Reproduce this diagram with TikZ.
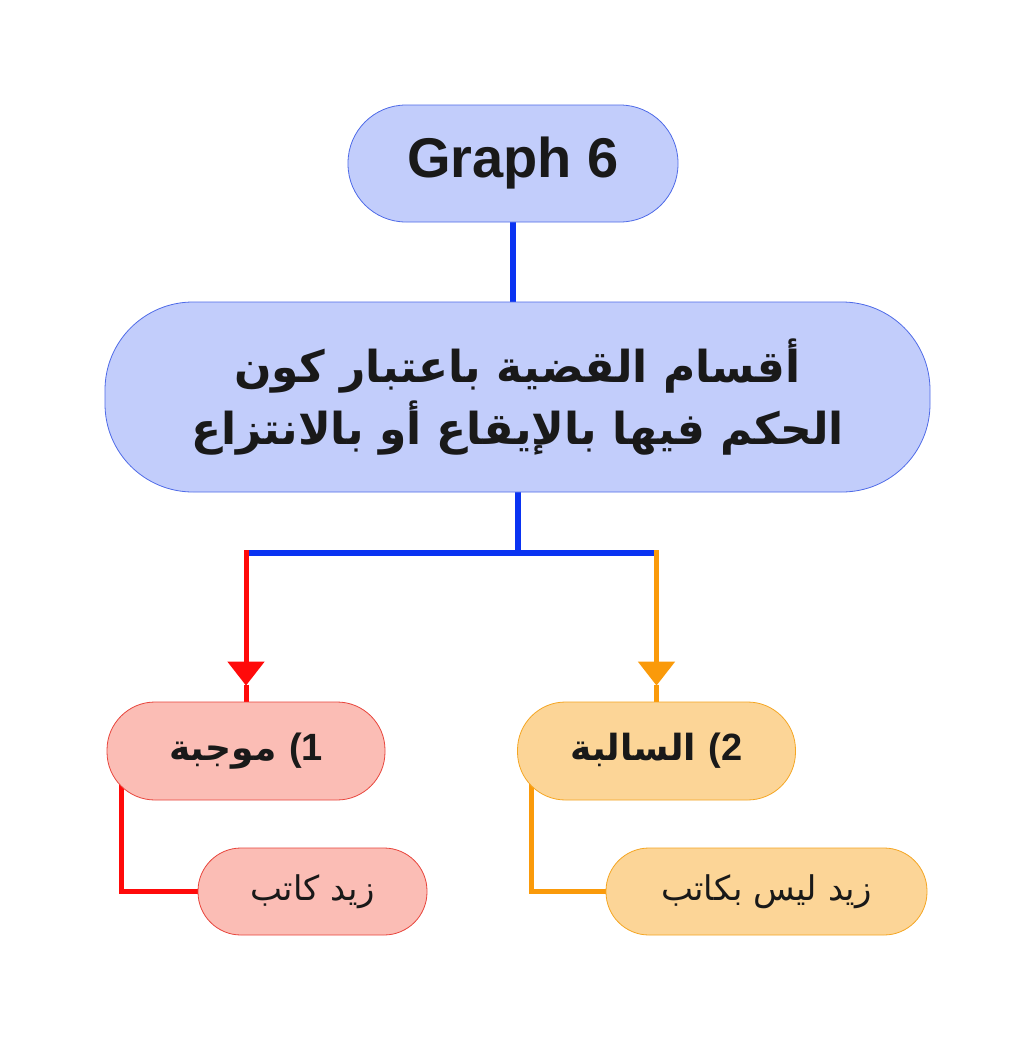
\documentclass[tikz,border=0pt]{standalone}
\usepackage{fontspec}
\setmainfont{Liberation Sans}
\newfontfamily\arabicfont[Script=Arabic]{DejaVu Sans}
\TeXXeTstate=1
\usetikzlibrary{arrows.meta,backgrounds}
\definecolor{topfill}{HTML}{C2CDFB}
\definecolor{topdraw}{HTML}{4F6BE8}
\definecolor{trunk}{HTML}{0A33F2}
\definecolor{posfill}{HTML}{FBBDB5}
\definecolor{posdraw}{HTML}{E8453C}
\definecolor{posline}{HTML}{FF0A0A}
\definecolor{negfill}{HTML}{FCD597}
\definecolor{negdraw}{HTML}{F5A623}
\definecolor{negline}{HTML}{FA9A0A}
\newcommand\numlbl[1]{{\normalfont\bfseries\fontsize{38}{40}\selectfont (#1}}
\tikzset{
  pillbox/.style={line width=0.8pt,align=center,text=black!90},
  titlebox/.style={pillbox,draw=topdraw,fill=topfill,rounded corners=58pt,
                   minimum width=330pt,minimum height=117pt,
                   font=\fontsize{56}{64}\selectfont\bfseries},
  mainbox/.style={pillbox,draw=topdraw,fill=topfill,rounded corners=88pt,
                  minimum width=825pt,minimum height=190pt,
                  font=\arabicfont\bfseries\fontsize{44}{62}\selectfont},
  posbox/.style={pillbox,draw=posdraw,fill=posfill,rounded corners=48pt,
                 minimum width=278pt,minimum height=98pt,
                 font=\arabicfont\bfseries\fontsize{36}{40}\selectfont},
  negbox/.style={posbox,draw=negdraw,fill=negfill},
  posex/.style={pillbox,draw=posdraw,fill=posfill,rounded corners=43pt,
                minimum height=87pt,font=\arabicfont\fontsize{34}{40}\selectfont},
  negex/.style={posex,draw=negdraw,fill=negfill},
  trunkline/.style={trunk,line width=6pt},
  posflow/.style={posline,line width=5pt},
  negflow/.style={negline,line width=5pt},
  tip/.style={-{Triangle[width=36pt,length=24pt]}},
}

\begin{document}
\begin{tikzpicture}[x=1pt,y=-1pt]
\useasboundingbox (0,0) rectangle (1035,1041);

\node[titlebox] (title) at (513,163.5) {Graph 6};

\node[mainbox] (main) at (517.5,397)
  {\beginR أقسام القضية باعتبار كون\endR\\
   \beginR الحكم فيها بالإيقاع أو بالانتزاع\endR};

\node[posbox] (pos) at (246,751) {\beginR موجبة\endR\ \numlbl{1}};
\node[negbox] (neg) at (656.5,751) {\beginR السالبة\endR\ \numlbl{2}};

\node[posex, minimum width=229pt] (posex) at (312.5,891.5) {\beginR زيد كاتب\endR};
\node[negex, minimum width=321pt] (negex) at (766.5,891.5) {\beginR زيد ليس بكاتب\endR};

\coordinate (fork) at (517.5,553);
\coordinate (jl) at (pos.north |- fork);
\coordinate (jr) at (neg.north |- fork);

\begin{scope}[on background layer]
\fill[white] (0,0) rectangle (1035,1041);
\draw[trunkline] (title.south) -- (title.south |- main.north);
\draw[trunkline] (main.south) -- (fork);
\draw[trunkline] (jl) -- (jr);
\draw[posflow,tip] ([yshift=3pt]jl) -- ([yshift=16pt]pos.north);
\draw[posflow] ([yshift=17pt]pos.north) -- (pos.north);
\draw[negflow,tip] ([yshift=3pt]jr) -- ([yshift=16pt]neg.north);
\draw[negflow] ([yshift=17pt]neg.north) -- (neg.north);
\draw[posflow] ([xshift=15pt]pos.west) |- (posex.west);
\draw[negflow] ([xshift=14pt]neg.west) |- (negex.west);
\end{scope}
\end{tikzpicture}
\end{document}
